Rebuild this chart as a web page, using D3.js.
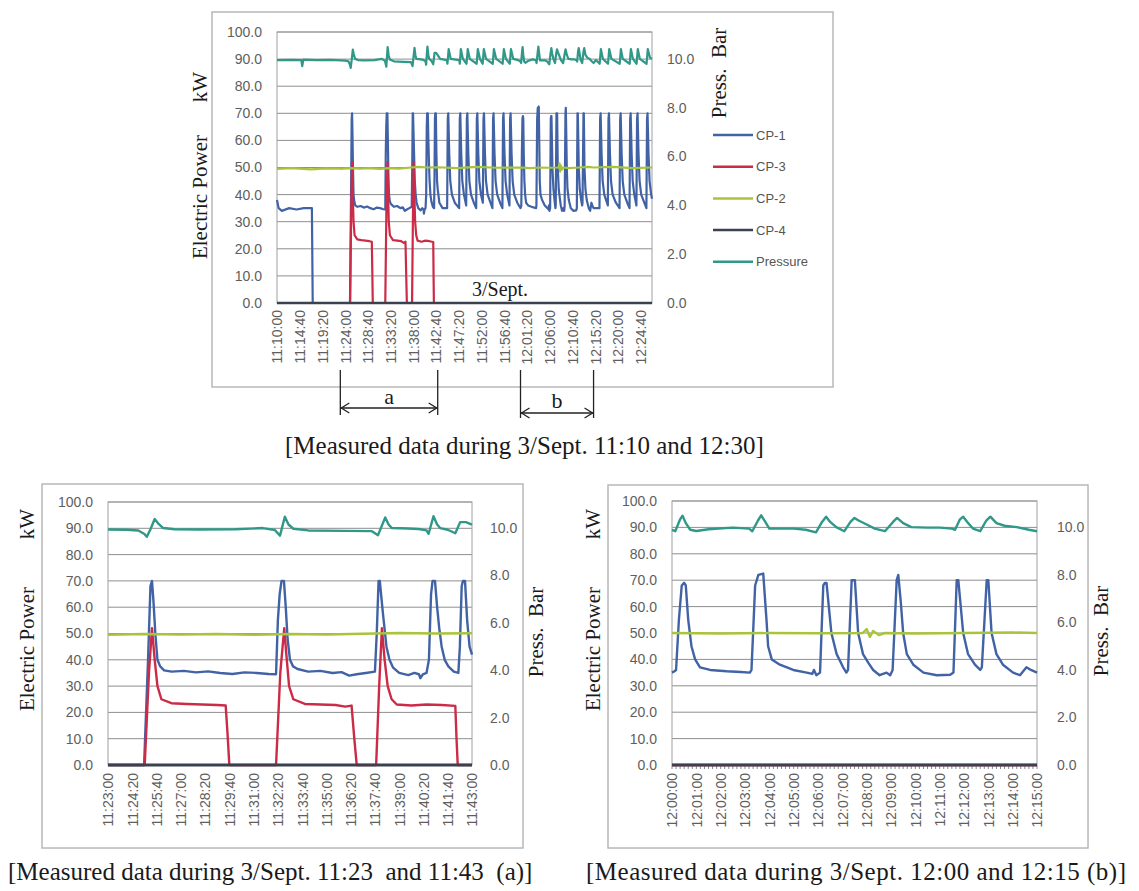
<!DOCTYPE html>
<html>
<head>
<meta charset="utf-8">
<script src="https://cdn.jsdelivr.net/npm/d3@7"></script>
<style>
  html, body { margin: 0; padding: 0; background: #ffffff; }
  svg { display: block; }
</style>
</head>
<body>
<svg id="fig" width="1139" height="891"></svg>
<script>
// ---------------- DATA ----------------
// Series names / legend order
const seriesNames = ["CP-1", "CP-3", "CP-2", "CP-4", "Pressure"];

// X tick labels
const xLabelsTop = ["11:10:00","11:14:40","11:19:20","11:24:00","11:28:40","11:33:20","11:38:00","11:42:40","11:47:20","11:52:00","11:56:40","12:01:20","12:06:00","12:10:40","12:15:20","12:20:00","12:24:40"];
const xLabelsA = ["11:23:00","11:24:20","11:25:40","11:27:00","11:28:20","11:29:40","11:31:00","11:32:20","11:33:40","11:35:00","11:36:20","11:37:40","11:39:00","11:40:20","11:41:40","11:43:00"];
const xLabelsB = ["12:00:00","12:01:00","12:02:00","12:03:00","12:04:00","12:05:00","12:06:00","12:07:00","12:08:00","12:09:00","12:10:00","12:11:00","12:12:00","12:13:00","12:14:00","12:15:00"];

// Y tick labels
const powerTicks = [0,10,20,30,40,50,60,70,80,90,100];
const pressTicks = [0,2,4,6,8,10];

// Captions / annotations
const captionTop = "[Measured data during 3/Sept. 11:10 and 12:30]";
const captionA = "[Measured data during 3/Sept. 11:23  and 11:43  (a)]";
const captionB = "[Measured data during 3/Sept. 12:00 and 12:15 (b)]";
const spanA = ["11:23:00","11:43:00"];
const spanB = ["12:00:00","12:15:00"];

// ---- CP-1 (kW) segments ----
const cp1_1110 = [["11:10:00",38],["11:10:20",35],["11:11:00",34],["11:12:30",35],["11:14:00",34.5],["11:15:30",35],["11:17:10",35],["11:17:20",0],["11:23:00",0]];
const cp1_1123 = [["11:23:00",0],["11:24:59",0],["11:25:12",40],["11:25:20",68],["11:25:25",70],["11:25:30",62],["11:25:36",50],["11:25:43",40],["11:25:52",37.5],["11:26:05",36],["11:26:30",35.5],["11:27:10",35.8],["11:27:50",35.2],["11:28:30",35.6],["11:29:10",35],["11:29:50",34.6],["11:30:30",35.2],["11:31:10",35],["11:31:50",34.6],["11:32:14",34.5],
  ["11:32:20",55],["11:32:26",65],["11:32:32",70],["11:32:40",70],["11:32:46",60],["11:32:52",48],["11:33:00",40],["11:33:10",37.5],["11:33:25",36.5],["11:34:00",35.5],["11:34:40",35.8],["11:35:20",35],["11:35:50",35.3],["11:36:15",34],["11:36:40",34.5],["11:37:10",35],["11:37:40",35.5],
  ["11:37:46",50],["11:37:52",70],["11:37:56",70],["11:38:06",58],["11:38:18",45],["11:38:28",40],["11:38:40",37],["11:39:00",35],["11:39:30",34.2],["11:39:50",35],["11:40:05",34.5],["11:40:10",33],["11:40:18",34.5],["11:40:30",35],
  ["11:40:38",40],["11:40:45",65],["11:40:50",70],["11:40:58",70],["11:41:05",60],["11:41:12",52],["11:41:20",45],["11:41:30",40],["11:41:42",37.5],["11:42:00",35.5],["11:42:15",35],
  ["11:42:20",45],["11:42:26",68],["11:42:30",70],["11:42:37",70],["11:42:44",55],["11:42:52",45],["11:43:00",42]];
const cp1_1143 = [["11:43:00",42],["11:43:20",37],["11:44:00",35],["11:44:56",35],
  ["11:45:04",68],["11:45:10",70],["11:45:22",55],["11:45:35",45],["11:45:55",40],["11:46:30",37],["11:47:24",35],
  ["11:47:32",68],["11:47:38",70],["11:47:50",55],["11:48:03",45],["11:48:23",40],["11:48:51",36],
  ["11:48:59",68],["11:49:05",70],["11:49:17",55],["11:49:30",45],["11:49:50",40],["11:50:25",37],["11:50:54",35],
  ["11:51:02",68],["11:51:08",70],["11:51:20",55],["11:51:33",45],["11:51:53",40],["11:52:16",37],
  ["11:52:24",68],["11:52:30",70],["11:52:42",55],["11:52:55",45],["11:53:15",40],["11:53:50",37],["11:54:14",35],
  ["11:54:22",68],["11:54:28",70],["11:54:40",55],["11:54:53",45],["11:55:13",40],["11:55:48",37],["11:56:17",35],
  ["11:56:25",68],["11:56:31",70],["11:56:43",55],["11:56:56",45],["11:57:16",40],["11:57:44",36],
  ["11:57:52",68],["11:57:58",70],["11:58:10",55],["11:58:23",45],["11:58:43",40],["11:59:20",37],["12:00:00",35]];
const cp1_1200 = [["12:00:00",35],["12:00:06",35.5],["12:00:10",36],["12:00:17",55],["12:00:24",68],["12:00:30",69],["12:00:34",68],["12:00:40",55],["12:00:48",45],["12:00:57",40],["12:01:09",37],["12:01:34",36],["12:02:15",35.5],["12:02:50",35.2],["12:03:12",35],
  ["12:03:16",36],["12:03:25",68],["12:03:33",72],["12:03:45",72.5],["12:03:53",55],["12:03:57",45],["12:04:06",40],["12:04:26",38],["12:04:59",36],["12:05:32",35],["12:05:46",34.5],["12:05:50",36],["12:05:56",34],
  ["12:06:05",35],["12:06:13",68],["12:06:17",69],["12:06:21",69],["12:06:33",50],["12:06:46",42],["12:07:02",37],["12:07:10",35],
  ["12:07:14",36],["12:07:23",70],["12:07:31",70],["12:07:39",50],["12:07:51",42],["12:08:05",38.5],["12:08:16",36],["12:08:32",34],["12:08:49",35],["12:08:58",34],
  ["12:09:04",36],["12:09:14",70],["12:09:18",72],["12:09:24",62],["12:09:30",50],["12:09:39",42],["12:09:55",38],["12:10:20",35],["12:10:53",34],["12:11:26",34.2],
  ["12:11:34",35],["12:11:42",70],["12:11:46",70],["12:11:58",50],["12:12:10",42],["12:12:27",38],["12:12:40",36],
  ["12:12:44",37],["12:12:56",70],["12:13:00",70],["12:13:08",50],["12:13:20",42],["12:13:36",38],["12:14:01",35],["12:14:18",34],["12:14:34",37],["12:14:45",36],["12:15:00",35]];
const cp1_1215 = [["12:15:00",35],["12:16:13",35],["12:16:21",68],["12:16:27",70],["12:16:39",55],["12:16:52",45],["12:17:12",40],["12:17:45",37],["12:17:56",36],
  ["12:18:04",68],["12:18:10",70],["12:18:22",55],["12:18:35",45],["12:18:55",40],["12:19:35",37],["12:20:20",35],
  ["12:20:28",68],["12:20:34",70],["12:20:46",55],["12:20:59",45],["12:21:19",40],["12:21:55",37],["12:22:23",35],
  ["12:22:31",68],["12:22:37",70],["12:22:49",55],["12:23:02",45],["12:23:22",40],["12:23:48",36],
  ["12:23:56",68],["12:24:02",70],["12:24:14",55],["12:24:27",45],["12:24:47",40],["12:25:25",37],["12:25:51",35],
  ["12:25:59",68],["12:26:05",70],["12:26:17",55],["12:26:30",45],["12:26:50",40],["12:27:00",38.5]];

// ---- CP-3 (kW) segments ----
const cp3_1110 = [["11:10:00",0],["11:23:00",0]];
const cp3_1123 = [["11:23:00",0],["11:25:01",0],["11:25:15",35],["11:25:25",52],["11:25:34",40],["11:25:43",30],["11:25:56",25],["11:26:29",23.5],["11:27:20",23.2],["11:28:10",23],["11:29:00",22.8],["11:29:28",22.6],["11:29:34",12],["11:29:40",0],
  ["11:32:14",0],["11:32:28",35],["11:32:41",52],["11:32:48",42],["11:32:57",30],["11:33:11",25],["11:33:49",23.2],["11:34:40",23],["11:35:30",22.8],["11:36:02",22.2],["11:36:23",22.6],["11:36:32",10],["11:36:40",0],
  ["11:37:44",0],["11:37:54",30],["11:38:03",52],["11:38:12",40],["11:38:22",30],["11:38:35",25],["11:38:52",23],["11:39:40",22.6],["11:40:30",23],["11:41:20",22.8],["11:42:05",22.5],["11:42:09",10],["11:42:13",0],["11:43:00",0]];
const cp3_1143 = [["11:43:00",0],["12:00:00",0]];
const cp3_1200 = [["12:00:00",0],["12:15:00",0]];
const cp3_1215 = [["12:15:00",0],["12:27:00",0]];

// ---- CP-2 (kW) segments ----
const cp2_1110 = [["11:10:00",49.5],["11:13:00",49.8],["11:17:00",49.3],["11:20:00",49.7],["11:23:00",49.6]];
const cp2_1123 = [["11:23:00",49.5],["11:25:00",49.8],["11:27:00",49.6],["11:29:00",49.8],["11:31:00",49.5],["11:33:00",49.8],["11:35:00",49.6],["11:37:00",49.9],["11:39:00",50.2],["11:41:00",50],["11:43:00",50.1]];
const cp2_1143 = [["11:43:00",50.1],["11:47:00",49.8],["11:51:00",50.2],["11:55:00",49.9],["12:00:00",50]];
const cp2_1200 = [["12:00:00",50],["12:02:00",49.8],["12:04:00",50],["12:06:00",49.9],["12:07:50",50],["12:08:00",51.5],["12:08:08",48.5],["12:08:16",50.8],["12:08:30",49.2],["12:08:45",50],["12:10:00",49.8],["12:12:00",50],["12:14:00",50.2],["12:15:00",50]];
const cp2_1215 = [["12:15:00",50],["12:19:00",50.2],["12:23:00",49.8],["12:27:00",50]];

// ---- CP-4 (kW) segments ----
const cp4_1110 = [["11:10:00",0],["11:23:00",0]];
const cp4_1123 = [["11:23:00",0],["11:43:00",0]];
const cp4_1143 = [["11:43:00",0],["12:00:00",0]];
const cp4_1200 = [["12:00:00",0],["12:15:00",0]];
const cp4_1215 = [["12:15:00",0],["12:27:00",0]];

// ---- Pressure (bar) segments ----
const pr_1110 = [["11:10:00",9.95],["11:13:00",9.96],["11:15:00",9.95],["11:15:10",9.7],["11:15:25",9.97],["11:18:00",9.95],["11:21:00",9.96],["11:23:00",9.94]];
const pr_1123 = [["11:23:00",9.94],["11:24:00",9.93],["11:24:40",9.9],["11:25:00",9.75],["11:25:08",9.63],["11:25:20",9.95],["11:25:34",10.38],["11:25:45",10.2],["11:26:02",10.0],["11:26:40",9.95],["11:28:00",9.94],["11:30:00",9.95],["11:31:30",10.0],["11:32:10",9.92],["11:32:27",9.68],["11:32:43",10.48],["11:32:55",10.15],["11:33:11",9.97],["11:34:00",9.9],["11:36:00",9.88],["11:37:30",9.87],["11:37:50",9.7],["11:38:14",10.45],["11:38:25",10.15],["11:38:36",10.0],["11:39:30",9.98],["11:40:04",9.96],["11:40:30",9.9],["11:40:37",9.76],["11:40:53",10.5],["11:41:05",10.15],["11:41:15",10.0],["11:41:40",9.93],["11:42:05",9.78],["11:42:21",10.25],["11:42:40",10.25],["11:43:00",10.15]];
const pr_1143 = [["11:43:00",10.15],["11:43:30",10.0],["11:44:50",9.95],["11:45:00",9.8],["11:45:15",10.4],["11:45:40",10.0],["11:47:25",9.95],["11:47:32",9.8],["11:47:45",10.4],["11:48:10",10.0],["11:48:55",9.8],["11:49:10",10.4],["11:49:35",10.0],["11:51:00",9.8],["11:51:14",10.4],["11:51:40",10.0],["11:52:14",9.8],["11:52:28",10.4],["11:52:55",10.0],["11:54:18",9.8],["11:54:32",10.4],["11:55:00",10.0],["11:56:20",9.8],["11:56:35",10.4],["11:57:00",10.0],["11:57:48",9.8],["11:58:02",10.4],["11:58:30",10.0],["11:59:30",9.95],["12:00:00",9.89]];
const pr_1200 = [["12:00:00",9.89],["12:00:08",9.83],["12:00:20",10.33],["12:00:26",10.48],["12:00:34",10.17],["12:00:45",9.89],["12:01:00",9.84],["12:01:30",9.91],["12:02:30",9.98],["12:03:10",9.94],["12:03:18",9.83],["12:03:32",10.28],["12:03:40",10.5],["12:03:50",10.22],["12:04:00",9.94],["12:05:00",9.94],["12:05:30",9.89],["12:05:55",9.78],["12:06:10",10.22],["12:06:20",10.44],["12:06:30",10.22],["12:06:45",10.0],["12:07:05",9.83],["12:07:20",10.22],["12:07:30",10.39],["12:07:40",10.28],["12:08:00",10.11],["12:08:20",9.94],["12:08:45",9.83],["12:09:05",10.22],["12:09:15",10.39],["12:09:30",10.17],["12:09:50",10.0],["12:10:30",9.98],["12:11:00",9.98],["12:11:30",9.94],["12:11:38",9.89],["12:11:50",10.33],["12:11:58",10.44],["12:12:08",10.22],["12:12:22",9.94],["12:12:40",9.83],["12:12:55",10.28],["12:13:05",10.44],["12:13:20",10.17],["12:13:40",10.06],["12:14:10",10.0],["12:14:40",9.89],["12:15:00",9.83]];
const pr_1215 = [["12:15:00",9.83],["12:15:30",9.95],["12:16:15",9.8],["12:16:30",10.4],["12:16:55",10.0],["12:17:58",9.8],["12:18:13",10.4],["12:18:40",10.0],["12:20:22",9.8],["12:20:37",10.4],["12:21:00",10.0],["12:22:25",9.8],["12:22:40",10.4],["12:23:05",10.0],["12:23:50",9.8],["12:24:05",10.4],["12:24:30",10.0],["12:25:53",9.8],["12:26:08",10.4],["12:26:35",10.05],["12:27:00",10.0]];

// ---------------- STYLE ----------------
const colors = { "CP-1": "#4163a6", "CP-3": "#cc2b47", "CP-2": "#a9c43a", "CP-4": "#3a4250", "Pressure": "#2f9888" };
const serif = "'Liberation Serif', 'Times New Roman', serif";
const sans = "'Liberation Sans', Arial, sans-serif";

const parse = d3.timeParse("%H:%M:%S");
const fmt = d3.timeFormat("%H:%M:%S");

// series tables built from the named segments
const topSeries = {
  "CP-1": [].concat(cp1_1110, cp1_1123, cp1_1143, cp1_1200, cp1_1215),
  "CP-3": [].concat(cp3_1110, cp3_1123, cp3_1143, cp3_1200, cp3_1215),
  "CP-2": [].concat(cp2_1110, cp2_1123, cp2_1143, cp2_1200, cp2_1215),
  "CP-4": [].concat(cp4_1110, cp4_1123, cp4_1143, cp4_1200, cp4_1215),
  "Pressure": [].concat(pr_1110, pr_1123, pr_1143, pr_1200, pr_1215)
};
const seriesA = { "CP-1": cp1_1123, "CP-3": cp3_1123, "CP-2": cp2_1123, "CP-4": cp4_1123, "Pressure": pr_1123 };
const seriesB = { "CP-1": cp1_1200, "CP-3": cp3_1200, "CP-2": cp2_1200, "CP-4": cp4_1200, "Pressure": pr_1200 };

const svg = d3.select("#fig");

function drawChart(cfg) {
  const g = svg.append("g");
  const x = d3.scaleTime().domain([parse(cfg.t0), parse(cfg.t1)]).range([cfg.left, cfg.right]);
  const y = d3.scaleLinear().domain([0, 100]).range([cfg.bottom, cfg.top]);
  const yp = d3.scaleLinear().domain([0, 11.1]).range([cfg.bottom, cfg.top]);

  // chart frame
  g.append("rect").attr("x", cfg.frame[0]).attr("y", cfg.frame[1])
    .attr("width", cfg.frame[2]).attr("height", cfg.frame[3])
    .attr("fill", "none").attr("stroke", "#b8b8b8").attr("stroke-width", 1.5);

  // gridlines
  g.append("g").selectAll("line").data(powerTicks).join("line")
    .attr("x1", cfg.left).attr("x2", cfg.right)
    .attr("y1", d => y(d)).attr("y2", d => y(d))
    .attr("stroke", "#8e8e8e").attr("stroke-width", 1);

  // plot area border
  g.append("rect").attr("x", cfg.left).attr("y", cfg.top)
    .attr("width", cfg.right - cfg.left).attr("height", cfg.bottom - cfg.top)
    .attr("fill", "none").attr("stroke", "#a0a0a0").attr("stroke-width", 1);

  // minor comb ticks on category axis
  if (cfg.comb) {
    g.append("g").selectAll("line").data(x.ticks(d3.timeSecond.every(cfg.comb))).join("line")
      .attr("x1", d => x(d)).attr("x2", d => x(d))
      .attr("y1", cfg.bottom).attr("y2", cfg.bottom + 4)
      .attr("stroke", "#8a8a8a").attr("stroke-width", 1);
  }

  // lines
  seriesNames.forEach(name => {
    const data = cfg.series[name].map(d => [parse(d[0]), d[1]]);
    const ys = name === "Pressure" ? yp : y;
    const line = d3.line().x(d => x(d[0])).y(d => ys(d[1]));
    g.append("path").datum(data).attr("d", line)
      .attr("fill", "none").attr("stroke", colors[name])
      .attr("stroke-width", name === "CP-4" ? cfg.lw + 0.5 : cfg.lw)
      .attr("stroke-linejoin", "round");
  });

  // left axis
  const ga = g.append("g").attr("transform", `translate(${cfg.left},0)`)
    .call(d3.axisLeft(y).tickValues(powerTicks).tickFormat(d3.format(".1f")).tickSize(0).tickPadding(15));
  ga.select(".domain").remove();
  ga.selectAll("text").attr("font-family", sans).attr("font-size", 14).attr("fill", "#5e5e5e");

  // right axis
  const gr = g.append("g").attr("transform", `translate(${cfg.right},0)`)
    .call(d3.axisRight(yp).tickValues(pressTicks).tickFormat(d3.format(".1f")).tickSize(0).tickPadding(cfg.rpad));
  gr.select(".domain").remove();
  gr.selectAll("text").attr("font-family", sans).attr("font-size", 14).attr("fill", "#5e5e5e");

  // bottom axis (rotated labels)
  const gx = g.append("g").attr("transform", `translate(0,${cfg.bottom})`)
    .call(d3.axisBottom(x).tickValues(cfg.xLabels.map(parse)).tickFormat(fmt).tickSize(0));
  gx.select(".domain").remove();
  gx.selectAll("text")
    .attr("transform", "rotate(-90)").attr("text-anchor", "end")
    .attr("x", -cfg.xgap).attr("y", 0).attr("dy", "0.35em")
    .attr("font-family", sans).attr("font-size", 14).attr("fill", "#5e5e5e");

  // axis titles
  g.append("text").attr("transform", `translate(${cfg.ytX},${cfg.ytY}) rotate(-90)`)
    .attr("text-anchor", "middle").attr("dy", "0.35em")
    .attr("font-family", serif).attr("font-size", 21).attr("fill", "#1a1a1a").text("Electric Power");
  g.append("text").attr("transform", `translate(${cfg.ytX},${cfg.kwY}) rotate(-90)`)
    .attr("text-anchor", "middle").attr("dy", "0.35em")
    .attr("font-family", serif).attr("font-size", 21).attr("fill", "#1a1a1a").text("kW");
  g.append("text").attr("transform", `translate(${cfg.ptX},${cfg.ptY}) rotate(-90)`)
    .attr("text-anchor", "middle").attr("dy", "0.35em")
    .attr("font-family", serif).attr("font-size", 21).attr("fill", "#1a1a1a")
    .attr("xml:space", "preserve").text("Press.  Bar");

  // caption
  const cap = g.append("text").attr("x", cfg.capX).attr("y", cfg.capY)
    .attr("font-family", serif).attr("font-size", 25).attr("fill", "#1a1a1a")
    .attr("xml:space", "preserve").text(cfg.caption);
  if (cfg.capLen) cap.attr("textLength", cfg.capLen).attr("lengthAdjust", "spacing");

  return { g, x, y, yp };
}

// ---------- Top chart ----------
const topChart = drawChart({
  t0: "11:10:00", t1: "12:27:00", left: 277, right: 652, top: 32, bottom: 303,
  frame: [212, 12, 621, 375], xLabels: xLabelsTop, series: topSeries, lw: 2.2,
  rpad: 15, xgap: 7, ytX: 200, ytY: 197, kwY: 87, ptX: 719, ptY: 73,
  caption: captionTop, capX: 285, capY: 454, comb: null
});

// "3/Sept." annotation
topChart.g.append("text").attr("x", 472).attr("y", 296)
  .attr("font-family", serif).attr("font-size", 20).attr("fill", "#1a1a1a").text("3/Sept.");

// legend
const leg = topChart.g.append("g").selectAll("g").data(seriesNames).join("g")
  .attr("transform", (d, i) => `translate(713,${135 + i * 31.7})`);
leg.append("line").attr("x1", 0).attr("x2", 40).attr("y1", 0).attr("y2", 0)
  .attr("stroke", d => colors[d]).attr("stroke-width", 2.5);
leg.append("text").attr("x", 43).attr("y", 0).attr("dy", "0.35em")
  .attr("font-family", sans).attr("font-size", 13).attr("fill", "#555").text(d => d);

// span brackets a and b
function bracket(span, yArrow, yTop, yBot, label, labelY) {
  const x1 = topChart.x(parse(span[0])), x2 = topChart.x(parse(span[1]));
  const b = topChart.g.append("g").attr("stroke", "#222").attr("stroke-width", 1.3).attr("fill", "none");
  b.append("line").attr("x1", x1).attr("x2", x1).attr("y1", yTop).attr("y2", yBot);
  b.append("line").attr("x1", x2).attr("x2", x2).attr("y1", yTop).attr("y2", yBot);
  b.append("line").attr("x1", x1).attr("x2", x2).attr("y1", yArrow).attr("y2", yArrow);
  b.append("path").attr("d", `M${x1 + 9},${yArrow - 5} L${x1 + 1},${yArrow} L${x1 + 9},${yArrow + 5}`);
  b.append("path").attr("d", `M${x2 - 9},${yArrow - 5} L${x2 - 1},${yArrow} L${x2 - 9},${yArrow + 5}`);
  topChart.g.append("text").attr("x", (x1 + x2) / 2).attr("y", labelY).attr("text-anchor", "middle")
    .attr("font-family", serif).attr("font-size", 22).attr("fill", "#1a1a1a").text(label);
}
bracket(spanA, 408, 370, 415, "a", 404);
bracket(spanB, 413, 370, 418, "b", 408);

// ---------- Bottom-left chart (a) ----------
drawChart({
  t0: "11:23:00", t1: "11:43:00", left: 108, right: 472, top: 502, bottom: 765,
  frame: [42, 484, 481, 364], xLabels: xLabelsA, series: seriesA, lw: 2.4,
  rpad: 18, xgap: 8, ytX: 27, ytY: 649, kwY: 524, ptX: 536, ptY: 632,
  caption: captionA, capX: 8, capY: 880, comb: null
});

// ---------- Bottom-right chart (b) ----------
drawChart({
  t0: "12:00:00", t1: "12:15:00", left: 672, right: 1037, top: 501, bottom: 765,
  frame: [608, 485, 480, 363], xLabels: xLabelsB, series: seriesB, lw: 2.4,
  rpad: 20, xgap: 8, ytX: 593, ytY: 649, kwY: 524, ptX: 1101, ptY: 631,
  caption: captionB, capX: 586, capY: 880, comb: 10, capLen: 540
});
</script>
</body>
</html>
